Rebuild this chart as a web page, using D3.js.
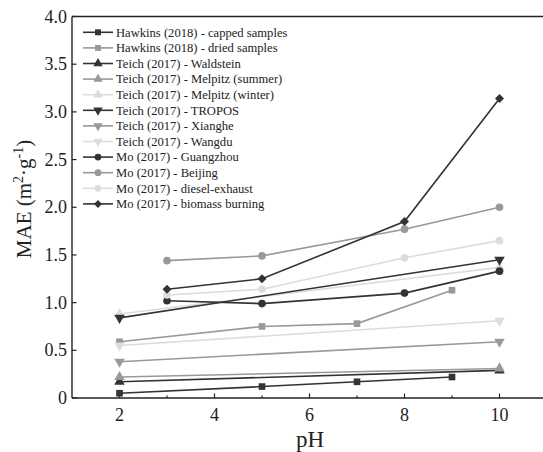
<!DOCTYPE html>
<html>
<head>
<meta charset="utf-8">
<script src="https://cdn.jsdelivr.net/npm/d3@7"></script>
<style>
  body { margin: 0; background: #fff; }
  text { font-family: "Liberation Serif", "Times New Roman", serif; fill: #222; }
</style>
</head>
<body>
<svg id="chart" width="543" height="452"></svg>
<script>
// data
const names = [
  "Hawkins (2018) - capped samples",
  "Hawkins (2018) - dried samples",
  "Teich (2017) - Waldstein",
  "Teich (2017) - Melpitz (summer)",
  "Teich (2017) - Melpitz (winter)",
  "Teich (2017) - TROPOS",
  "Teich (2017) - Xianghe",
  "Teich (2017) - Wangdu",
  "Mo (2017) - Guangzhou",
  "Mo (2017) - Beijing",
  "Mo (2017) - diesel-exhaust",
  "Mo (2017) - biomass burning"
]
const phValues = [
  [2, 5, 7, 9],
  [2, 5, 7, 9],
  [2, 10],
  [2, 10],
  [2, 10],
  [2, 10],
  [2, 10],
  [2, 10],
  [3, 5, 8, 10],
  [3, 5, 8, 10],
  [3, 5, 8, 10],
  [3, 5, 8, 10]
]
const maeValues = [
  [0.05, 0.12, 0.17, 0.22],
  [0.59, 0.75, 0.78, 1.13],
  [0.17, 0.29],
  [0.22, 0.31],
  [0.88, 1.37],
  [0.84, 1.45],
  [0.38, 0.59],
  [0.55, 0.81],
  [1.02, 0.99, 1.10, 1.33],
  [1.44, 1.49, 1.77, 2.00],
  [1.08, 1.14, 1.47, 1.65],
  [1.14, 1.25, 1.85, 3.14]
]
const xTicks = [2, 4, 6, 8, 10]
const xMinorTicks = [3, 5, 7, 9]
const yTicks = [0, 0.5, 1.0, 1.5, 2.0, 2.5, 3.0, 3.5, 4.0]

// styles per series
const shades = ["#333", "#999", "#333", "#999", "#dcdcdc", "#333", "#999", "#dcdcdc", "#333", "#999", "#dcdcdc", "#333"]
const shapes = ["square", "square", "up", "up", "up", "down", "down", "down", "circle", "circle", "circle", "diamond"]

const margin = { left: 72, top: 16.5, bottom: 398 }
const svg = d3.select("#chart")

const x = d3.scaleLinear().domain([1, 11]).range([margin.left, margin.left + 475])
const y = d3.scaleLinear().domain([0, 4]).range([margin.bottom, margin.top])

// frame: left, bottom, top
svg.append("line").attr("x1", x(1)).attr("x2", x(1)).attr("y1", y(4)).attr("y2", y(0))
  .attr("stroke", "#222").attr("stroke-width", 1.4)
svg.append("line").attr("x1", x(1)).attr("x2", 543).attr("y1", y(0)).attr("y2", y(0))
  .attr("stroke", "#222").attr("stroke-width", 1.4)
svg.append("line").attr("x1", x(1)).attr("x2", 543).attr("y1", y(4)).attr("y2", y(4))
  .attr("stroke", "#222").attr("stroke-width", 1.4)

// ticks point inward
svg.selectAll(".xt").data(xTicks).enter().append("line")
  .attr("x1", d => x(d)).attr("x2", d => x(d)).attr("y1", y(0)).attr("y2", y(0) - 4.5)
  .attr("stroke", "#222").attr("stroke-width", 1.2)
svg.selectAll(".xm").data(xMinorTicks).enter().append("line")
  .attr("x1", d => x(d)).attr("x2", d => x(d)).attr("y1", y(0)).attr("y2", y(0) - 2.5)
  .attr("stroke", "#222").attr("stroke-width", 1.2)
svg.selectAll(".yt").data(yTicks).enter().append("line")
  .attr("x1", x(1)).attr("x2", x(1) + 4.5).attr("y1", d => y(d)).attr("y2", d => y(d))
  .attr("stroke", "#222").attr("stroke-width", 1.2)

svg.selectAll(".xl").data(xTicks).enter().append("text")
  .attr("x", d => x(d)).attr("y", y(0) + 23)
  .attr("text-anchor", "middle").attr("font-size", 18)
  .text(d => d)
svg.selectAll(".yl").data(yTicks).enter().append("text")
  .attr("x", x(1) - 5).attr("y", d => y(d) + 6)
  .attr("text-anchor", "end").attr("font-size", 18)
  .text(d => d === 0 ? "0" : d.toFixed(1))

// axis titles
svg.append("text").attr("x", 310).attr("y", 447)
  .attr("text-anchor", "middle").attr("font-size", 23).text("pH")
const yTitle = svg.append("text")
  .attr("transform", "translate(31,199) rotate(-90)")
  .attr("text-anchor", "middle").attr("font-size", 21)
yTitle.append("tspan").text("MAE (m")
yTitle.append("tspan").attr("dy", -8).attr("font-size", 14).text("2")
yTitle.append("tspan").attr("dy", 8).text("·g")
yTitle.append("tspan").attr("dy", -8).attr("font-size", 14).text("-1")
yTitle.append("tspan").attr("dy", 8).text(")")

const symbolFor = (shape) => {
  if (shape === "square") return { type: d3.symbolSquare, size: 44, rot: 0 }
  if (shape === "up") return { type: d3.symbolTriangle, size: 48, rot: 0 }
  if (shape === "down") return { type: d3.symbolTriangle, size: 48, rot: 180 }
  if (shape === "circle") return { type: d3.symbolCircle, size: 46, rot: 0 }
  return { type: d3.symbolSquare, size: 40, rot: 45 }
}

const line = d3.line().x(d => x(d[0])).y(d => y(d[1]))

names.forEach((name, i) => {
  const pts = phValues[i].map((p, j) => [p, maeValues[i][j]])
  const g = svg.append("g")
  g.append("path").attr("d", line(pts))
    .attr("fill", "none").attr("stroke", shades[i]).attr("stroke-width", 1.6)
  const s = symbolFor(shapes[i])
  g.selectAll("path.m").data(pts).enter().append("path")
    .attr("class", "m")
    .attr("d", d3.symbol().type(s.type).size(s.size))
    .attr("transform", d => `translate(${x(d[0])},${y(d[1])}) rotate(${s.rot})`)
    .attr("fill", shades[i])
})

// legend
const legend = svg.append("g")
names.forEach((name, i) => {
  const ly = 32.3 + i * 15.6
  legend.append("line").attr("x1", 83).attr("x2", 113).attr("y1", ly).attr("y2", ly)
    .attr("stroke", shades[i]).attr("stroke-width", 1.6)
  const s = symbolFor(shapes[i])
  legend.append("path")
    .attr("d", d3.symbol().type(s.type).size(s.size * 0.8))
    .attr("transform", `translate(98,${ly}) rotate(${s.rot})`)
    .attr("fill", shades[i])
  legend.append("text").attr("x", 116).attr("y", ly + 4.3)
    .attr("font-size", 12.6).text(name)
})
</script>
</body>
</html>
